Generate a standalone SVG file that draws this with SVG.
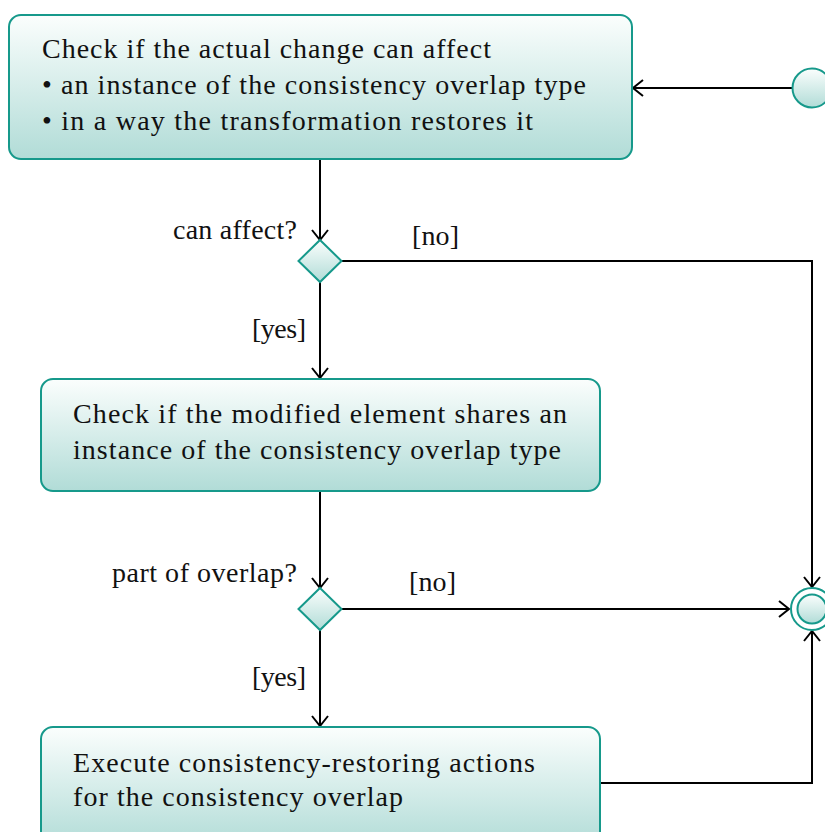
<svg xmlns="http://www.w3.org/2000/svg" width="825" height="832" viewBox="0 0 825 832">
  <defs>
    <linearGradient id="fillGrad" x1="0" y1="0" x2="0" y2="1">
      <stop offset="0" stop-color="#fbfefd"/>
      <stop offset="1" stop-color="#b1dcd7"/>
    </linearGradient>
    <marker id="arrow" viewBox="0 0 12 18" refX="11" refY="9" markerWidth="12" markerHeight="18" markerUnits="userSpaceOnUse" orient="auto">
      <path d="M1,1 L11,9 L1,17" fill="none" stroke="#000" stroke-width="2"/>
    </marker>
    <style>
      .node { fill: url(#fillGrad); stroke: #16998b; stroke-width: 2; }
      .edge { fill: none; stroke: #000; stroke-width: 2; marker-end: url(#arrow); }
      text { font-family: "Liberation Serif", "DejaVu Serif", serif; font-size: 28px; fill: #111; }
    </style>
  </defs>

  <rect width="825" height="832" fill="#fff"/>

  <g id="connectors">
    <path class="edge" d="M792,88 H633"/>
    <path class="edge" d="M320,159 V240"/>
    <path class="edge" d="M342,261 H812 V587"/>
    <path class="edge" d="M320,282 V378"/>
    <path class="edge" d="M320,491 V588"/>
    <path class="edge" d="M342,609 H789"/>
    <path class="edge" d="M320,630 V726"/>
    <path class="edge" d="M600,783 H812 V631"/>
  </g>

  <g id="start">
    <circle class="node" cx="812" cy="88" r="19.5"/>
  </g>

  <g id="check-affect">
    <rect class="node" x="9" y="15" width="623" height="144" rx="12"/>
    <text x="42" y="58" textLength="449" lengthAdjust="spacing">Check if the actual change can affect</text>
    <text x="42" y="94" textLength="544" lengthAdjust="spacing">• an instance of the consistency overlap type</text>
    <text x="42" y="130" textLength="491" lengthAdjust="spacing">• in a way the transformation restores it</text>
  </g>

  <g id="decision-affect">
    <polygon class="node" points="320,240 341.5,261 320,282 298.5,261"/>
    <text x="173" y="239" textLength="124" lengthAdjust="spacing">can affect?</text>
    <text x="412" y="245" textLength="47" lengthAdjust="spacing">[no]</text>
    <text x="252" y="338" textLength="54" lengthAdjust="spacing">[yes]</text>
  </g>

  <g id="check-shared">
    <rect class="node" x="41" y="379" width="559" height="112" rx="12"/>
    <text x="73" y="423" textLength="494" lengthAdjust="spacing">Check if the modified element shares an</text>
    <text x="73" y="459" textLength="488" lengthAdjust="spacing">instance of the consistency overlap type</text>
  </g>

  <g id="decision-overlap">
    <polygon class="node" points="320,588 341.5,609 320,630 298.5,609"/>
    <text x="112" y="582" textLength="185" lengthAdjust="spacing">part of overlap?</text>
    <text x="409" y="591" textLength="47" lengthAdjust="spacing">[no]</text>
    <text x="252" y="686" textLength="54" lengthAdjust="spacing">[yes]</text>
  </g>

  <g id="execute">
    <rect class="node" x="41" y="727" width="559" height="120" rx="12"/>
    <text x="73" y="772" textLength="462" lengthAdjust="spacing">Execute consistency-restoring actions</text>
    <text x="73" y="806" textLength="330" lengthAdjust="spacing">for the consistency overlap</text>
  </g>

  <g id="final">
    <circle cx="812" cy="609" r="21" fill="#fff" stroke="#16998b" stroke-width="2"/>
    <circle class="node" cx="812" cy="609" r="14.5"/>
  </g>
</svg>
